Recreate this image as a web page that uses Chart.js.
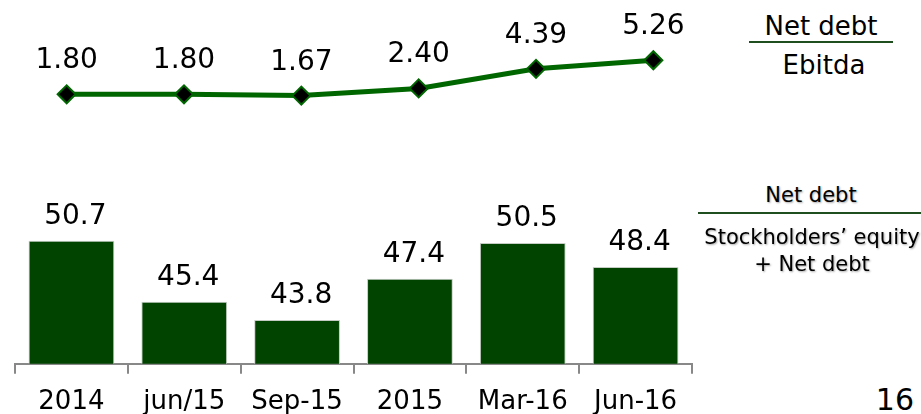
<!DOCTYPE html>
<html>
<head>
<meta charset="utf-8">
<script src="https://cdn.jsdelivr.net/npm/chart.js@4.4.0/dist/chart.umd.min.js"></script>
<style>
    body { margin: 0; background: #fff; font-family: "DejaVu Sans", Verdana, sans-serif; }
    #page { position: relative; width: 921px; height: 414px; overflow: hidden; }
    .box { position: absolute; }
    .txt { position: absolute; text-align: center; color: #000; white-space: nowrap; }
    .rule { position: absolute; height: 2px; background: #1f4f1f; }
    .shadow { text-shadow: 1px 1px 2px rgba(0, 0, 0, 0.35); }
</style>
</head>
<body>
<div id="page">
    <div class="box" style="left:0; top:0; width:720px; height:130px;"><canvas id="lineChart"></canvas></div>
    <div class="box" style="left:0; top:180px; width:700px; height:251px;"><canvas id="barChart"></canvas></div>

    <div class="txt" style="left:741px; top:11px; width:160px; font-size:26px; line-height:30px;">Net debt</div>
    <div class="rule" style="left:749px; top:41px; width:144px;"></div>
    <div class="txt" style="left:744px; top:50px; width:160px; font-size:26px; line-height:30px;">Ebitda</div>

    <div class="txt shadow" style="left:731px; top:183px; width:160px; font-size:21px; line-height:25px;">Net debt</div>
    <div class="rule" style="left:698px; top:212px; width:223px;"></div>
    <div class="txt shadow" style="left:700px; top:224px; width:224px; font-size:21px; line-height:27px;">Stockholders’ equity<br>+ Net debt</div>

    <div class="txt" style="left:830px; top:383px; width:84px; text-align:right; font-size:30px; line-height:34px;">16</div>
</div>
<script>
// periods on the two charts
const linePeriods = ['2014', 'jun/15', 'Sep-15', '2015', 'Mar-16', 'Jun-16'];
const barPeriods = ['2014', 'jun/15', 'Sep-15', '2015', 'Mar-16', 'Jun-16'];

// Net debt / Ebitda
const debtEbitda = [1.80, 1.80, 1.67, 2.40, 4.39, 5.26];
// Net debt / (Stockholders' equity + Net debt), %
const debtRatio = [50.7, 45.4, 43.8, 47.4, 50.5, 48.4];

const fontFamily = '"DejaVu Sans", Verdana, sans-serif';

// draws the value above each point / bar
const valueLabels = {
    id: 'valueLabels',
    afterDatasetsDraw(chart, args, opts) {
        const ctx = chart.ctx;
        const meta = chart.getDatasetMeta(0);
        const values = chart.data.datasets[0].data;
        ctx.save();
        ctx.font = opts.size + 'px ' + fontFamily;
        ctx.fillStyle = '#000';
        ctx.textAlign = 'center';
        ctx.textBaseline = 'alphabetic';
        meta.data.forEach(function (el, i) {
            ctx.fillText(values[i].toFixed(opts.digits), el.x + (opts.dx || 0), el.y - opts.offset);
        });
        ctx.restore();
    }
};

new Chart(document.getElementById('lineChart'), {
    type: 'line',
    data: {
        labels: linePeriods,
        datasets: [{
            data: debtEbitda,
            borderColor: '#006600',
            borderWidth: 5,
            pointStyle: 'rectRot',
            pointRadius: 9,
            pointBackgroundColor: '#000',
            pointBorderColor: '#006600',
            pointBorderWidth: 2,
            tension: 0
        }]
    },
    options: {
        responsive: true,
        maintainAspectRatio: false,
        animation: false,
        layout: { autoPadding: false, padding: { left: 8, right: 8, top: 0, bottom: 0 } },
        plugins: {
            legend: { display: false },
            tooltip: { enabled: false },
            valueLabels: { size: 28, digits: 2, offset: 26 }
        },
        scales: {
            x: { display: false, offset: true },
            y: { display: false, min: -1.83, max: 11.39 }
        }
    },
    plugins: [valueLabels]
});

new Chart(document.getElementById('barChart'), {
    type: 'bar',
    data: {
        labels: barPeriods,
        datasets: [{
            data: debtRatio,
            backgroundColor: '#004400',
            borderColor: '#c4ccc4',
            borderWidth: 1,
            categoryPercentage: 1,
            barPercentage: 0.76
        }]
    },
    options: {
        responsive: true,
        maintainAspectRatio: false,
        animation: false,
        layout: { padding: { left: 15, right: 8, top: 10, bottom: 0 } },
        plugins: {
            legend: { display: false },
            tooltip: { enabled: false },
            valueLabels: { size: 28, digits: 1, offset: 17, dx: 4 }
        },
        scales: {
            x: {
                border: { display: true, color: '#888', width: 2 },
                grid: { drawOnChartArea: false, drawTicks: true, tickLength: 10, color: '#888', lineWidth: 2 },
                ticks: { color: '#000', padding: 13, font: { family: fontFamily, size: 26 } }
            },
            y: { display: false, min: 40, max: 55.1 }
        }
    },
    plugins: [valueLabels]
});
</script>
</body>
</html>
